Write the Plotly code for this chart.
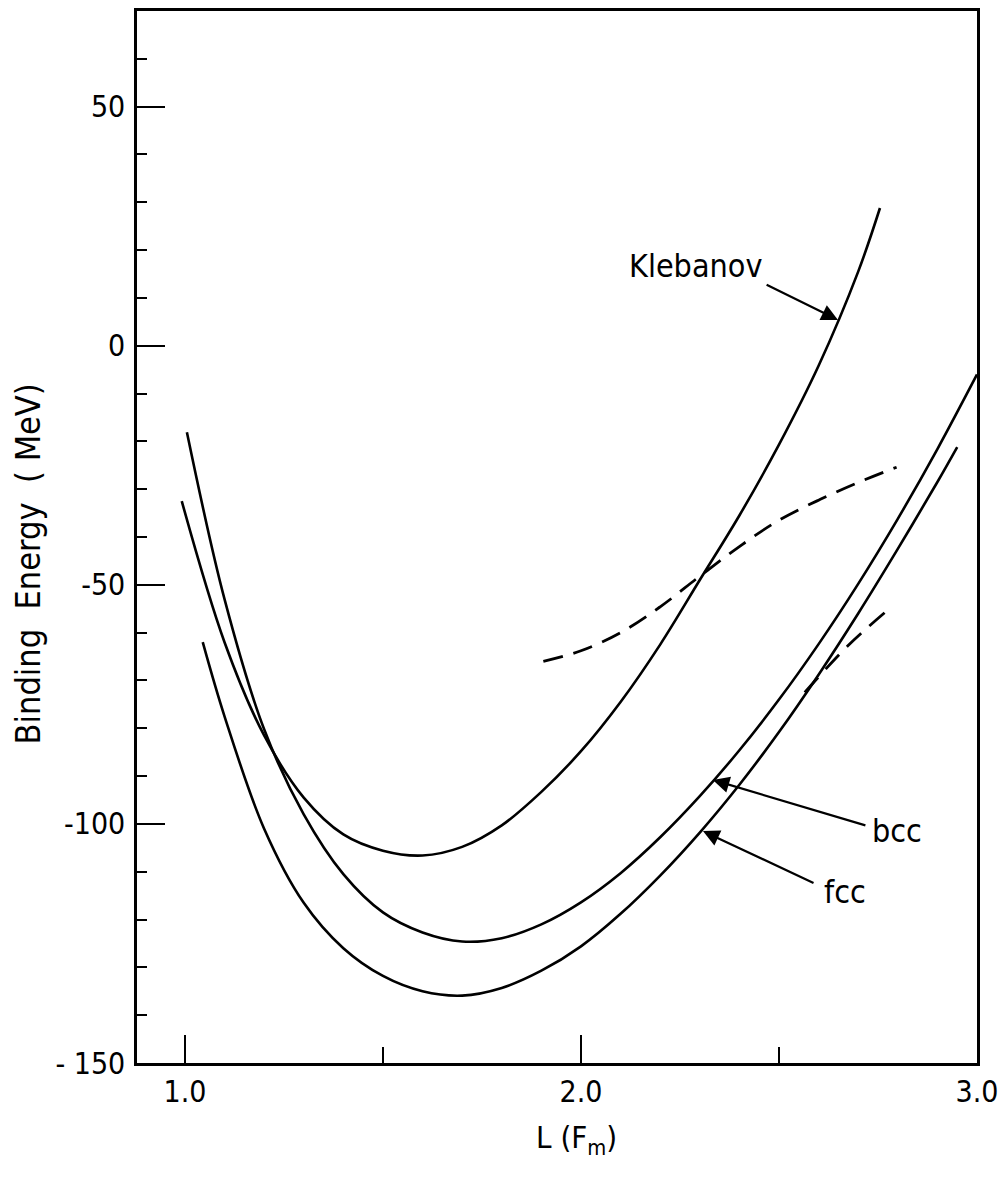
import plotly.graph_objects as go

# ---- data ----
kleb_L = [0.992, 1.1, 1.2, 1.3, 1.4, 1.5, 1.6, 1.7, 1.8, 1.9, 2.0, 2.1, 2.2, 2.3, 2.4, 2.5, 2.6, 2.7, 2.755]
kleb_E = [-32.5, -62.0, -81.5, -94.5, -102.2, -105.6, -106.6, -104.8, -100.3, -93.3, -84.8, -74.5, -62.5, -49.0, -35.5, -20.7, -4.2, 15.5, 28.8]

bcc_L = [1.005, 1.1, 1.2, 1.3, 1.4, 1.5, 1.6, 1.7, 1.8, 1.9, 2.0, 2.1, 2.2, 2.3, 2.4, 2.5, 2.6, 2.7, 2.8, 2.9, 3.0]
bcc_E = [-18.1, -53.0, -80.2, -98.0, -110.5, -118.5, -122.7, -124.6, -123.9, -121.0, -116.4, -110.3, -102.8, -94.2, -84.6, -74.0, -62.4, -49.8, -36.2, -21.6, -6.0]

fcc_L = [1.045, 1.1, 1.2, 1.3, 1.4, 1.5, 1.6, 1.7, 1.8, 1.9, 2.0, 2.1, 2.2, 2.3, 2.4, 2.5, 2.6, 2.7, 2.8, 2.9, 2.95]
fcc_E = [-62.0, -77.5, -101.0, -116.5, -126.0, -131.8, -135.0, -135.9, -134.3, -130.7, -125.6, -118.8, -110.8, -101.8, -91.8, -80.8, -68.8, -56.0, -42.5, -28.5, -21.2]

dash1_L = [1.905, 2.0, 2.1, 2.2, 2.3, 2.4, 2.5, 2.6, 2.7, 2.797]
dash1_E = [-66.0, -63.8, -60.0, -54.6, -48.2, -42.0, -36.5, -32.3, -28.6, -25.4]

dash2_L = [2.565, 2.672, 2.77]
dash2_E = [-72.5, -62.9, -55.6]

x_ticks = [1.0, 2.0, 3.0]
x_ticktext = ["1.0", "2.0", "3.0"]
x_minor = [1.5, 2.5]
y_ticks = [-150, -100, -50, 0, 50]
y_ticktext = ["- 150", "-100", "-50", "0", "50"]

# labels: (text, text L, text E, arrow tail L, tail E, tip L, tip E)
labels = [
    ("Klebanov", 2.288, 16.7, 2.465, 12.9, 2.649, 5.4),
    ("bcc", 2.798, -101.5, 2.722, -100.4, 2.333, -90.8),
    ("fcc", 2.667, -114.2, 2.591, -112.5, 2.308, -101.5),
]

FONT = "DejaVu Sans Condensed, DejaVu Sans, sans-serif"

fig = go.Figure()
line_style = dict(color="black", width=2.6, shape="spline", smoothing=1.0)
for L, E, nm in [(kleb_L, kleb_E, "Klebanov"), (bcc_L, bcc_E, "bcc"), (fcc_L, fcc_E, "fcc")]:
    fig.add_trace(go.Scatter(x=L, y=E, mode="lines", name=nm, line=line_style, cliponaxis=True))
for L, E in [(dash1_L, dash1_E), (dash2_L, dash2_E)]:
    fig.add_trace(go.Scatter(x=L, y=E, mode="lines",
                             line=dict(color="black", width=2.8, dash="20px,11px", shape="spline", smoothing=1.0)))

for txt, tx, ty, ax_, ay_, hx, hy in labels:
    fig.add_annotation(x=tx, y=ty, text=txt, showarrow=False, xanchor="center", yanchor="middle",
                       font=dict(family=FONT, size=32, color="black"))
    fig.add_annotation(x=hx, y=hy, ax=ax_, ay=ay_, axref="x", ayref="y", text="",
                       showarrow=True, arrowhead=2, arrowsize=1.5, arrowwidth=2.2, arrowcolor="black")

fig.add_annotation(x=0.523, y=-0.073, xref="paper", yref="paper", showarrow=False,
                   xanchor="center", yanchor="middle",
                   text="L (F<sub>m</sub>)", font=dict(family=FONT, size=31, color="black"))
fig.add_annotation(x=-0.1296, y=0.474, xref="paper", yref="paper", showarrow=False, textangle=-90,
                   xanchor="center", yanchor="middle",
                   text="Binding\u00a0 Energy\u00a0 (\u00a0MeV)", font=dict(family=FONT, size=34, color="black"))

fig.update_layout(
    width=1006, height=1186,
    margin=dict(l=137, r=28, t=8, b=123),
    paper_bgcolor="white", plot_bgcolor="white",
    showlegend=False,
    font=dict(family=FONT, size=29, color="black"),
)
fig.update_xaxes(
    range=[0.879, 3.0], tickvals=x_ticks, ticktext=x_ticktext,
    ticks="inside", ticklen=28, tickwidth=2, tickcolor="black",
    showline=True, linewidth=2.5, linecolor="black", mirror=True,
    showgrid=False, zeroline=False, ticklabelstandoff=0,
    tickfont=dict(family=FONT, size=30, color="black"),
    minor=dict(tickvals=x_minor, ticks="inside", ticklen=16, tickwidth=2, tickcolor="black", showgrid=False),
)
fig.update_yaxes(
    range=[-150, 70], tickvals=y_ticks, ticktext=y_ticktext,
    ticks="inside", ticklen=28, tickwidth=2, tickcolor="black",
    showline=True, linewidth=2.5, linecolor="black", mirror=True,
    showgrid=False, zeroline=False, ticklabelstandoff=3,
    tickfont=dict(family=FONT, size=30, color="black"),
    minor=dict(dtick=10, tick0=0, ticks="inside", ticklen=10, tickwidth=2, tickcolor="black", showgrid=False),
)

fig.write_html("out.html")
